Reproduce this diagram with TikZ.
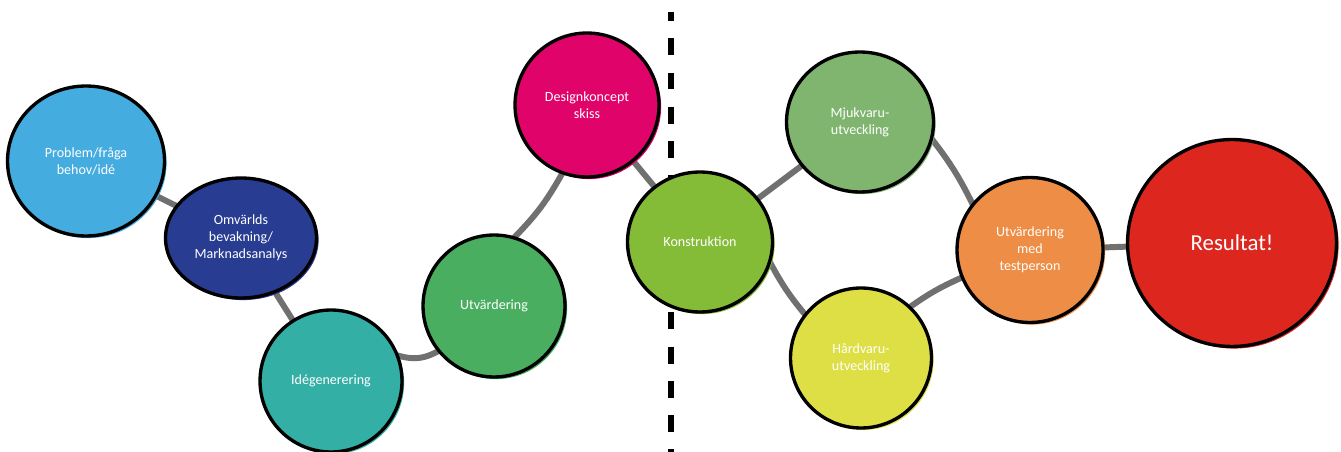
\documentclass[tikz,border=0pt]{standalone}
\usepackage{fontspec}
\setmainfont{Carlito}
\usetikzlibrary{shapes.geometric,backgrounds}

\definecolor{skyblue}{HTML}{45ACE0}
\definecolor{navy}{HTML}{283C91}
\definecolor{teal}{HTML}{33AFA5}
\definecolor{leafgreen}{HTML}{4AAE61}
\definecolor{magenta}{HTML}{E0046A}
\definecolor{lime}{HTML}{84BB37}
\definecolor{sage}{HTML}{80B56F}
\definecolor{lemon}{HTML}{DEDF44}
\definecolor{tangerine}{HTML}{EE8D45}
\definecolor{signalred}{HTML}{DC261E}
\definecolor{linkgray}{HTML}{707070}

\begin{document}
\begin{tikzpicture}[x=0.02cm, y=-0.02cm,
    bubble/.style = {ellipse, draw=black, line width=1.9pt, inner sep=0pt,
        preaction={fill=#1, transform canvas={shift={(1.2pt,-1.2pt)}}},
        fill=#1, text=white, align=center,
        font=\fontsize{8}{9.8}\selectfont},
    link/.style = {draw=linkgray, line width=3.4pt, shorten <=-4pt, shorten >=-4pt}]

    \useasboundingbox (0,0) rectangle (1341,452);

    % Steps
    \node[bubble=skyblue, minimum width=3.14cm, minimum height=3cm] (problem) at (86,161) {Problem/fråga\\behov/idé};
    \node[bubble=navy, minimum width=3.02cm, minimum height=2.4cm] (omvarld) at (241,238) {Omvärlds\\bevakning/\\Marknadsanalys};
    \node[bubble=teal, minimum width=2.84cm, minimum height=2.84cm] (ide) at (331,381) {Idégenerering};
    \node[bubble=leafgreen, minimum width=2.84cm, minimum height=2.84cm] (utv) at (494,306) {Utvärdering};
    \node[bubble=magenta, minimum width=2.88cm, minimum height=2.88cm] (design) at (587,105) {Designkoncept\\skiss};
    \node[bubble=lime, minimum width=2.9cm, minimum height=2.8cm] (konstr) at (700,242) {Konstruktion};
    \node[bubble=sage, minimum width=2.94cm, minimum height=2.8cm] (mjuk) at (860,122) {Mjukvaru-\\utveckling};
    \node[bubble=lemon, minimum width=2.82cm, minimum height=2.8cm] (hard) at (861,358) {Hårdvaru-\\utveckling};
    \node[bubble=tangerine, minimum width=2.92cm, minimum height=2.9cm] (test) at (1030,250) {Utvärdering\\med\\testperson};
    \node[bubble=signalred, minimum width=4.18cm, minimum height=4.14cm, font=\fontsize{13}{15}\selectfont] (result) at (1232,243) {Resultat!};

    \begin{scope}[on background layer]
    % Divider
    \coordinate (divtop) at (671,12);
    \coordinate (divbot) at (671,452);
    \draw[line width=3.4pt, dash pattern=on 9.6pt off 9.9pt, dash phase=4.5pt] (divtop) -- (divbot);

    % Links
    \draw[link] (problem) -- (omvarld);
    \draw[link] (omvarld) -- (ide);
    \draw[link] (ide.20) to[bend right=25] (utv.219);
    \draw[link] (utv.73) to[bend right=8] (design.250);
    \draw[link] (design) -- (konstr);
    \draw[link] (konstr) -- (mjuk);
    \draw[link] (konstr.-17) to[bend right=6] (hard.142);
    \draw[link] (mjuk.-14) to[bend left=6] (test.141);
    \draw[link] (hard.46) to[bend left=6] (test.202);
    \draw[link] (test) -- (result);
    \end{scope}

\end{tikzpicture}
\end{document}
